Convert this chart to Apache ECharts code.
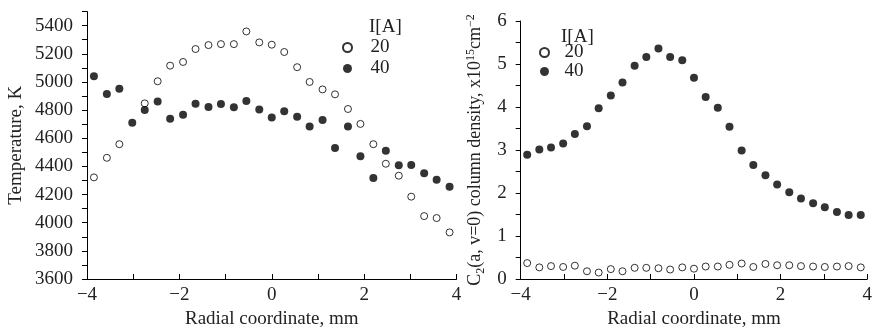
<!DOCTYPE html>
<html>
<head>
<meta charset="utf-8">
<script src="https://cdn.jsdelivr.net/npm/echarts@6/dist/echarts.min.js"></script>
<style>html,body{margin:0;padding:0;background:#fff}#c{width:875px;height:334px}</style>
</head>
<body>
<div id="c"></div>
<script>
// Radial positions (mm)
var radialPos = [-3.85,-3.57,-3.30,-3.02,-2.75,-2.47,-2.20,-1.92,-1.65,-1.37,-1.10,-0.82,-0.55,-0.27,0.00,0.27,0.55,0.82,1.10,1.37,1.65,1.92,2.20,2.47,2.75,3.02,3.30,3.57,3.85];
// Temperature, K
var temp20 = [4322,4461,4558,null,4848,5005,5116,5142,5234,5262,5269,5269,5359,5281,5265,5213,5105,5000,4947,4912,4808,4702,4558,4419,4334,4185,4047,4033,3931];
var temp40 = [5040,4915,4952,4711,4801,4862,4739,4767,4845,4822,4843,4820,4864,4804,4748,4792,4753,4683,4730,4531,4683,4473,4317,4512,4408,4410,4352,4306,4255];
// C2 column density, x1e15 cm^-2
var dens20 = [0.37,0.27,0.30,0.28,0.31,0.18,0.15,0.23,0.18,0.26,0.26,0.25,0.22,0.27,0.24,0.29,0.29,0.33,0.36,0.28,0.35,0.32,0.32,0.30,0.29,0.28,0.29,0.30,0.27];
var dens40 = [2.89,3.01,3.06,3.15,3.37,3.55,3.97,4.27,4.57,4.96,5.16,5.36,5.16,5.09,4.68,4.23,3.98,3.54,2.99,2.65,2.41,2.20,2.02,1.87,1.76,1.67,1.56,1.49,1.49];
var legendNames = ['20','40'];
var legendTitle = 'I[A]';

function pairs(ys){
  var out=[];
  for(var i=0;i<radialPos.length;i++){ if(ys[i]!==null) out.push([radialPos[i], ys[i]]); }
  return out;
}
var FONT = 'Liberation Serif';
var TXT = '#222';
var FS = 19;
function minus(v){ return String(v).replace('-', '\u2212'); }

function xAxisCfg(gi){
  return {
    type:'value', gridIndex:gi, min:-4, max:4, interval:2,
    name:'Radial coordinate, mm', nameLocation:'middle', nameGap:31,
    nameTextStyle:{fontFamily:FONT, fontSize:FS, color:TXT},
    axisLine:{show:true, onZero:false, lineStyle:{color:'#000', width:1}},
    axisTick:{show:true, inside:true, length:5, lineStyle:{color:'#000'}},
    minorTick:{show:true, splitNumber:2, length:5, lineStyle:{color:'#000'}},
    splitLine:{show:false},
    axisLabel:{fontFamily:FONT, fontSize:FS, color:TXT, margin:7, formatter:minus}
  };
}

var openStyle = {color:'#fff', borderColor:'#000', borderWidth:1};
var fillStyle = {color:'#000'};

var option = {
  animation:false,
  title:[
    {text:legendTitle, left:364, top:13, textStyle:{fontFamily:FONT, fontSize:FS, fontWeight:'normal', color:TXT}},
    {text:legendTitle, left:556, top:23, textStyle:{fontFamily:FONT, fontSize:FS, fontWeight:'normal', color:TXT}}
  ],
  legend:[
    {orient:'vertical', left:337, top:33, itemWidth:30, itemHeight:9, itemGap:2, data:legendNames,
     textStyle:{fontFamily:FONT, fontSize:FS, color:TXT, lineHeight:19, padding:[0,0,0,3]}},
    {orient:'vertical', left:534, top:38, itemWidth:30, itemHeight:9, itemGap:0, data:legendNames,
     textStyle:{fontFamily:FONT, fontSize:FS, color:TXT, lineHeight:18, padding:[0,0,0,0]}}
  ],
  grid:[
    {left:87, right:418.5, top:11.6, bottom:49.5},
    {left:520.7, right:4.3, top:21, bottom:52.3}
  ],
  xAxis:[xAxisCfg(0), xAxisCfg(1)],
  yAxis:[
    {type:'value', gridIndex:0, min:3600, max:5500, interval:200,
     name:'Temperature, K', nameLocation:'middle', nameGap:61,
     nameTextStyle:{fontFamily:FONT, fontSize:FS, color:TXT},
     axisLine:{show:true, onZero:false, lineStyle:{color:'#000', width:1}},
     axisTick:{show:true, length:5, lineStyle:{color:'#000'}},
     minorTick:{show:true, splitNumber:2, length:5, lineStyle:{color:'#000'}},
     splitLine:{show:false},
     axisLabel:{fontFamily:FONT, fontSize:FS, color:TXT, margin:14, showMaxLabel:false, formatter:function(v){return String(v);}}},
    {type:'value', gridIndex:1, min:0, max:6, interval:1,
     name:'C{sub|2}(a, v=0) column density, x10{sup|15}cm{sup|\u22122}', nameLocation:'middle', nameGap:34,
     nameTextStyle:{fontFamily:FONT, fontSize:18, color:TXT, lineHeight:22,
       rich:{sub:{fontFamily:FONT, fontSize:12, color:TXT, verticalAlign:'bottom', lineHeight:22},
             sup:{fontFamily:FONT, fontSize:12, color:TXT, verticalAlign:'top', lineHeight:22}}},
     axisLine:{show:true, onZero:false, lineStyle:{color:'#000', width:1}},
     axisTick:{show:true, length:5, lineStyle:{color:'#000'}},
     minorTick:{show:true, splitNumber:2, length:5, lineStyle:{color:'#000'}},
     splitLine:{show:false},
     axisLabel:{fontFamily:FONT, fontSize:FS, color:TXT, margin:14}}
  ],
  series:[
    {name:'20', type:'scatter', xAxisIndex:0, yAxisIndex:0, symbol:'circle', symbolSize:7, itemStyle:openStyle, data:pairs(temp20)},
    {name:'40', type:'scatter', xAxisIndex:0, yAxisIndex:0, symbol:'circle', symbolSize:8, itemStyle:fillStyle, data:pairs(temp40)},
    {name:'20', type:'scatter', xAxisIndex:1, yAxisIndex:1, symbol:'circle', symbolSize:7, itemStyle:openStyle, data:pairs(dens20)},
    {name:'40', type:'scatter', xAxisIndex:1, yAxisIndex:1, symbol:'circle', symbolSize:8, itemStyle:fillStyle, data:pairs(dens40)}
  ]
};
var chart = echarts.init(document.getElementById('c'), null, {renderer:'canvas'});
chart.setOption(option);
</script>
</body>
</html>
